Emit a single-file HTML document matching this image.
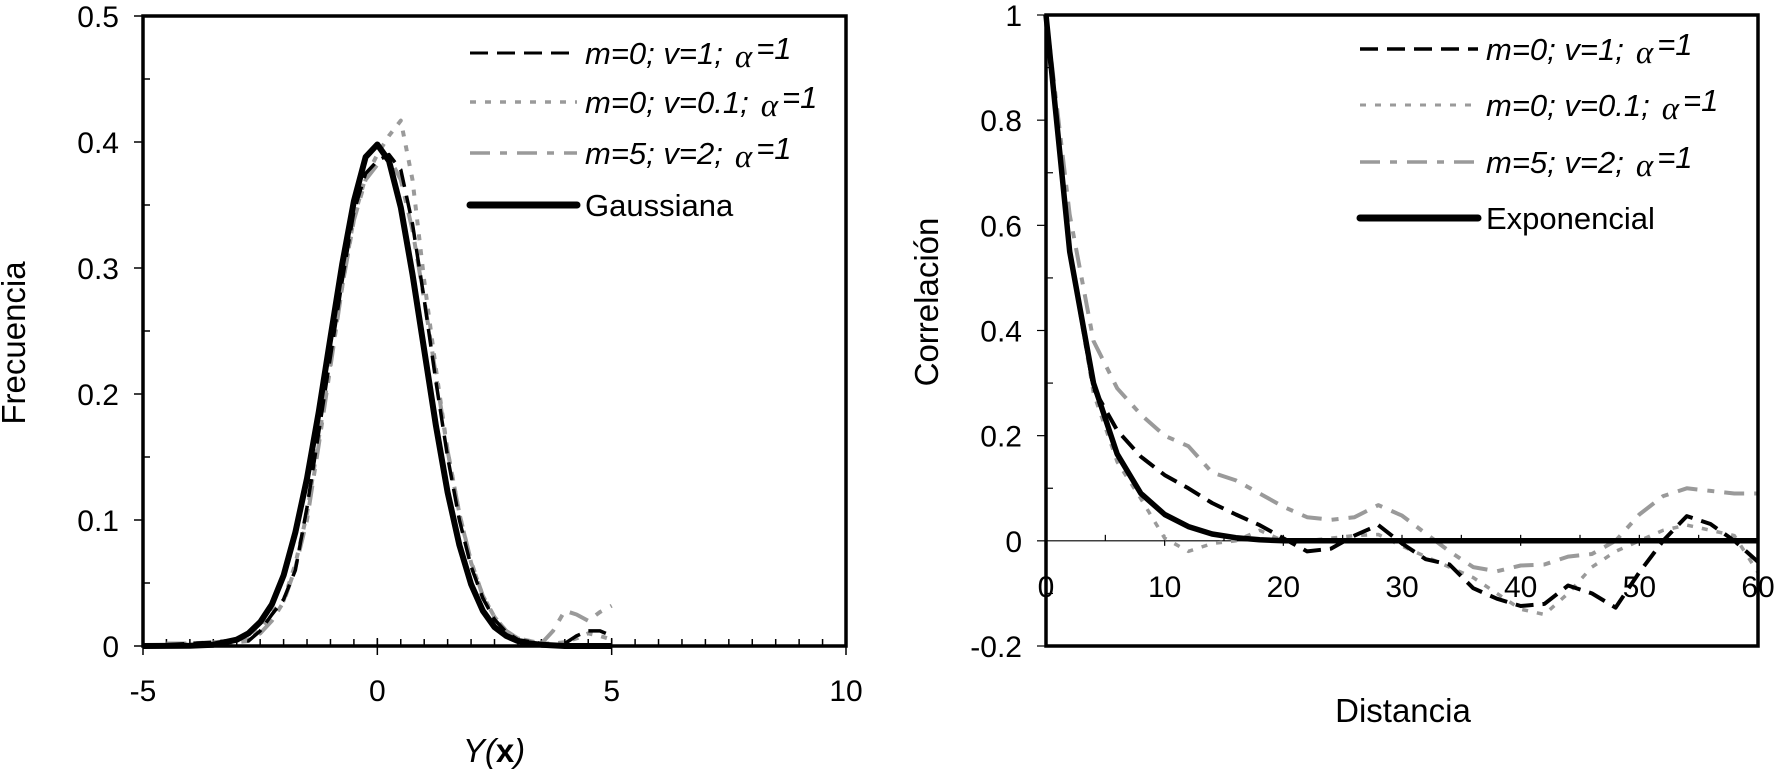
<!DOCTYPE html>
<html><head><meta charset="utf-8">
<style>
html,body{margin:0;padding:0;background:#fff;}
svg{display:block;font-family:"Liberation Sans",Arial,sans-serif;}
</style></head>
<body>
<svg id="fig" width="1774" height="770" viewBox="0 0 1774 770" xmlns="http://www.w3.org/2000/svg">
<g id="left"></g>
<g id="right"></g>
</svg>
<script>
// ---------- LEFT CHART DATA ----------
const leftXTicks = [-5, 0, 5, 10];
const leftYTicks = [0, 0.1, 0.2, 0.3, 0.4, 0.5];
const leftYTickLabels = ["0", "0.1", "0.2", "0.3", "0.4", "0.5"];
const gaussX = [-5,-4,-3.5,-3,-2.75,-2.5,-2.25,-2,-1.75,-1.5,-1.25,-1,-0.75,-0.5,-0.25,0,0.25,0.5,0.75,1,1.25,1.5,1.75,2,2.25,2.5,2.75,3,3.25,3.5,4,5];
const gaussY = [0,0.0002,0.001,0.005,0.01,0.019,0.033,0.056,0.09,0.133,0.186,0.245,0.303,0.353,0.388,0.398,0.385,0.348,0.295,0.235,0.175,0.122,0.08,0.049,0.028,0.015,0.008,0.004,0.002,0.001,0,0];
const simX = [-4.5,-4,-3.5,-3,-2.75,-2.5,-2.25,-2,-1.75,-1.5,-1.25,-1,-0.75,-0.5,-0.25,0,0.25,0.5,0.75,1,1.25,1.5,1.75,2,2.25,2.5,2.75,3,3.5,3.75,4,4.25,4.5,4.75,5];
const sim1Y = [0.001,0.002,0.003,0.005,0.004,0.012,0.025,0.037,0.06,0.11,0.17,0.23,0.29,0.345,0.375,0.385,0.39,0.378,0.335,0.275,0.21,0.15,0.1,0.063,0.038,0.021,0.011,0.005,0.002,0.001,0.002,0.008,0.012,0.012,0.008];
const sim2Y = [0.001,0.001,0.002,0.003,0.004,0.013,0.027,0.036,0.065,0.105,0.165,0.225,0.285,0.34,0.372,0.39,0.405,0.417,0.37,0.29,0.22,0.155,0.105,0.066,0.04,0.023,0.012,0.006,0.002,0.002,0.003,0.006,0.01,0.008,0.005];
const sim3Y = [0.002,0.002,0.003,0.004,0.005,0.01,0.02,0.035,0.062,0.1,0.16,0.222,0.285,0.338,0.37,0.382,0.388,0.37,0.33,0.275,0.215,0.155,0.105,0.067,0.04,0.023,0.012,0.006,0.002,0.012,0.028,0.025,0.02,0.027,0.032];

// ---------- RIGHT CHART DATA ----------
const rightXTicks = [0, 10, 20, 30, 40, 50, 60];
const rightYTicks = [-0.2, 0, 0.2, 0.4, 0.6, 0.8, 1];
const rightYTickLabels = ["-0.2", "0", "0.2", "0.4", "0.6", "0.8", "1"];
const distX = [0,2,4,6,8,10,12,14,16,18,20,22,24,26,28,30,32,34,36,38,40,42,44,46,48,50,52,54,56,58,60];
const expoY = [1,0.55,0.3,0.165,0.09,0.05,0.027,0.013,0.006,0.002,0,0,0,0,0,0,0,0,0,0,0,0,0,0,0,0,0,0,0,0,0];
const corr1Y = [1,0.55,0.29,0.21,0.16,0.125,0.1,0.072,0.05,0.03,0.005,-0.02,-0.015,0.01,0.03,-0.005,-0.035,-0.045,-0.09,-0.11,-0.124,-0.12,-0.085,-0.1,-0.127,-0.06,0.0,0.047,0.032,0.0,-0.04];
const corr2Y = [1,0.55,0.28,0.15,0.08,0.005,-0.02,-0.005,0.0,0.02,0.0,0.0,0.005,0.01,0.012,-0.01,-0.03,-0.05,-0.07,-0.1,-0.13,-0.14,-0.1,-0.05,-0.02,0.0,0.02,0.03,0.02,0.01,-0.06];
const corr3Y = [1,0.62,0.38,0.29,0.24,0.2,0.18,0.13,0.115,0.09,0.065,0.045,0.04,0.045,0.068,0.048,0.014,-0.02,-0.05,-0.058,-0.047,-0.045,-0.03,-0.025,0.0,0.05,0.085,0.1,0.095,0.09,0.09];

const NS = "http://www.w3.org/2000/svg";
function mk(parent, tag, attrs, text){
  const e = document.createElementNS(NS, tag);
  for (const k in attrs) e.setAttribute(k, attrs[k]);
  if (text !== undefined) e.textContent = text;
  parent.appendChild(e);
  return e;
}

const DASH = "18 9";
const DOT = "6 9";
const DASHDOT = "20 10 7 10";
const GRAY = "#9a9a9a";
const TICKFONT = 30;
const TITLEFONT = 33;

function legendEntry(g, x1, x2, y, style, label, plain){
  const ln = mk(g, "line", {x1:x1, y1:y, x2:x2, y2:y, stroke:style.color, "stroke-width":style.w, "stroke-dasharray":style.dash||"", "stroke-linecap":style.cap||"butt"});
  
  
  const t = mk(g, "text", {x:x2+8, y:y+11, "font-size":31});
  
  
  if (plain){ t.textContent = label; return; }
  mk(t, "tspan", {"font-style":"italic"}, label);
  mk(t, "tspan", {"font-style":"italic","font-family":"'Liberation Serif',serif","font-size":33, dx:12, dy:3}, "α");
  mk(t, "tspan", {"font-style":"italic", dx:4, dy:-8}, "=1");
}

// ---------- LEFT ----------
(function(){
  const g = document.getElementById("left");
  const X0=143, X1=846, Y0=646, Y1=16;
  const xs = v => X0 + (v + 5) / 15 * (X1 - X0);
  const ys = v => Y0 - v / 0.5 * (Y0 - Y1);
  for (let v = -4.5; v < 10; v += 0.5){
    const t = mk(g,"line",{x1:xs(v),y1:Y0,x2:xs(v),y2:Y0-7,stroke:"#000","stroke-width":1.5});
    
    
  }
  for (let v = 0.05; v < 0.5; v += 0.1){
    const t = mk(g,"line",{x1:X0,y1:ys(v),x2:X0+7,y2:ys(v),stroke:"#000","stroke-width":1.5});
    
    
  }
  leftYTicks.forEach((v,i)=>{
    const t = mk(g,"line",{x1:X0-9,y1:ys(v),x2:X0,y2:ys(v),stroke:"#000","stroke-width":1.5});
    
    
    const l = mk(g,"text",{x:X0-24,y:ys(v)+11,"font-size":TICKFONT,"text-anchor":"end"},leftYTickLabels[i]);
    
    
  });
  leftXTicks.forEach(v=>{
    const t = mk(g,"line",{x1:xs(v),y1:Y0-8,x2:xs(v),y2:Y0+9,stroke:"#000","stroke-width":1.5});
    
    
    const l = mk(g,"text",{x:xs(v),y:Y0+55,"font-size":TICKFONT,"text-anchor":"middle"},String(v));
    
    
  });
  function series(xa, ya, style, name){
    const pts = xa.map((x,i)=>xs(x).toFixed(1)+","+ys(ya[i]).toFixed(1)).join(" ");
    const p = mk(g,"polyline",{points:pts,fill:"none",stroke:style.color,"stroke-width":style.w,"stroke-dasharray":style.dash||"","stroke-linejoin":"round"});
    
    
  }
  series(simX, sim3Y, {color:GRAY,w:4,dash:DASHDOT}, 'series-m5-v2');
  series(simX, sim2Y, {color:GRAY,w:4,dash:DOT}, 'series-m0-v01');
  series(simX, sim1Y, {color:"#000",w:3.5,dash:DASH}, 'series-m0-v1');
  series(gaussX, gaussY, {color:"#000",w:6}, 'series-gaussiana');
  const fr = mk(g,"rect",{x:X0,y:Y1,width:X1-X0,height:Y0-Y1,fill:"none",stroke:"#000","stroke-width":3.5});
  
  
  const lg = mk(g,"g",{});
  
  
  legendEntry(lg,470,577,53,{color:"#000",w:3,dash:DASH},"m=0; v=1;");
  legendEntry(lg,470,577,102,{color:GRAY,w:3.5,dash:DOT},"m=0; v=0.1;");
  legendEntry(lg,470,577,153,{color:GRAY,w:3.5,dash:DASHDOT},"m=5; v=2;");
  legendEntry(lg,470,577,205,{color:"#000",w:7,cap:"round"},"Gaussiana",true);
  const yt = mk(g,"text",{x:0,y:0,"font-size":TITLEFONT,"text-anchor":"middle",transform:"translate(25,343) rotate(-90)"},"Frecuencia");
  
  
  const xt = mk(g,"text",{x:494,y:762,"font-size":TITLEFONT,"text-anchor":"middle"});
  
  
  mk(xt,"tspan",{"font-style":"italic"},"Y(");
  mk(xt,"tspan",{"font-weight":"bold"},"x");
  mk(xt,"tspan",{"font-style":"italic"},")");
})();

// ---------- RIGHT ----------
(function(){
  const g = document.getElementById("right");
  const X0=1046, X1=1758, Y0=646, Y1=15;
  const xs = v => X0 + v / 60 * (X1 - X0);
  const ys = v => Y0 - (v + 0.2) / 1.2 * (Y0 - Y1);
  const z = ys(0);
  const zl = mk(g,"line",{x1:X0,y1:z,x2:X1,y2:z,stroke:"#000","stroke-width":1.2});
  
  
  for (let v = 5; v < 60; v += 5){
    const t = mk(g,"line",{x1:xs(v),y1:z-6,x2:xs(v),y2:z+(v%10===0?5:0),stroke:"#000","stroke-width":1.2});
    
    
  }
  for (let v = -0.1; v < 1; v += 0.2){
    const t = mk(g,"line",{x1:X0,y1:ys(v),x2:X0+7,y2:ys(v),stroke:"#000","stroke-width":1.2});
    
    
  }
  rightYTicks.forEach((v,i)=>{
    const t = mk(g,"line",{x1:X0-9,y1:ys(v),x2:X0,y2:ys(v),stroke:"#000","stroke-width":1.2});
    
    
    const l = mk(g,"text",{x:X0-24,y:ys(v)+11,"font-size":TICKFONT,"text-anchor":"end"},rightYTickLabels[i]);
    
    
  });
  rightXTicks.forEach(v=>{
    const l = mk(g,"text",{x:xs(v),y:z+56,"font-size":TICKFONT,"text-anchor":"middle"},String(v));
    
    
  });
  function series(xa, ya, style, name){
    const pts = xa.map((x,i)=>xs(x).toFixed(1)+","+ys(ya[i]).toFixed(1)).join(" ");
    const p = mk(g,"polyline",{points:pts,fill:"none",stroke:style.color,"stroke-width":style.w,"stroke-dasharray":style.dash||"","stroke-linejoin":"round"});
    
    
  }
  series(distX, corr3Y, {color:GRAY,w:4,dash:DASHDOT}, 'series-m5-v2');
  series(distX, corr2Y, {color:GRAY,w:3.5,dash:DOT}, 'series-m0-v01');
  series(distX, corr1Y, {color:"#000",w:4,dash:DASH}, 'series-m0-v1');
  series(distX, expoY, {color:"#000",w:5.5}, 'series-exponencial');
  const fr = mk(g,"rect",{x:X0,y:Y1,width:X1-X0,height:Y0-Y1,fill:"none",stroke:"#000","stroke-width":3.5});
  
  
  const lg = mk(g,"g",{});
  
  
  legendEntry(lg,1360,1478,49,{color:"#000",w:3.5,dash:DASH},"m=0; v=1;");
  legendEntry(lg,1360,1478,105,{color:GRAY,w:3,dash:DOT},"m=0; v=0.1;");
  legendEntry(lg,1360,1478,162,{color:GRAY,w:3.5,dash:DASHDOT},"m=5; v=2;");
  legendEntry(lg,1360,1478,218,{color:"#000",w:7,cap:"round"},"Exponencial",true);
  const yt = mk(g,"text",{x:0,y:0,"font-size":TITLEFONT,"text-anchor":"middle",transform:"translate(938,302) rotate(-90)"},"Correlación");
  
  
  const xt = mk(g,"text",{x:1403,y:722,"font-size":TITLEFONT,"text-anchor":"middle"},"Distancia");
  
  
})();
</script>
</body></html>
